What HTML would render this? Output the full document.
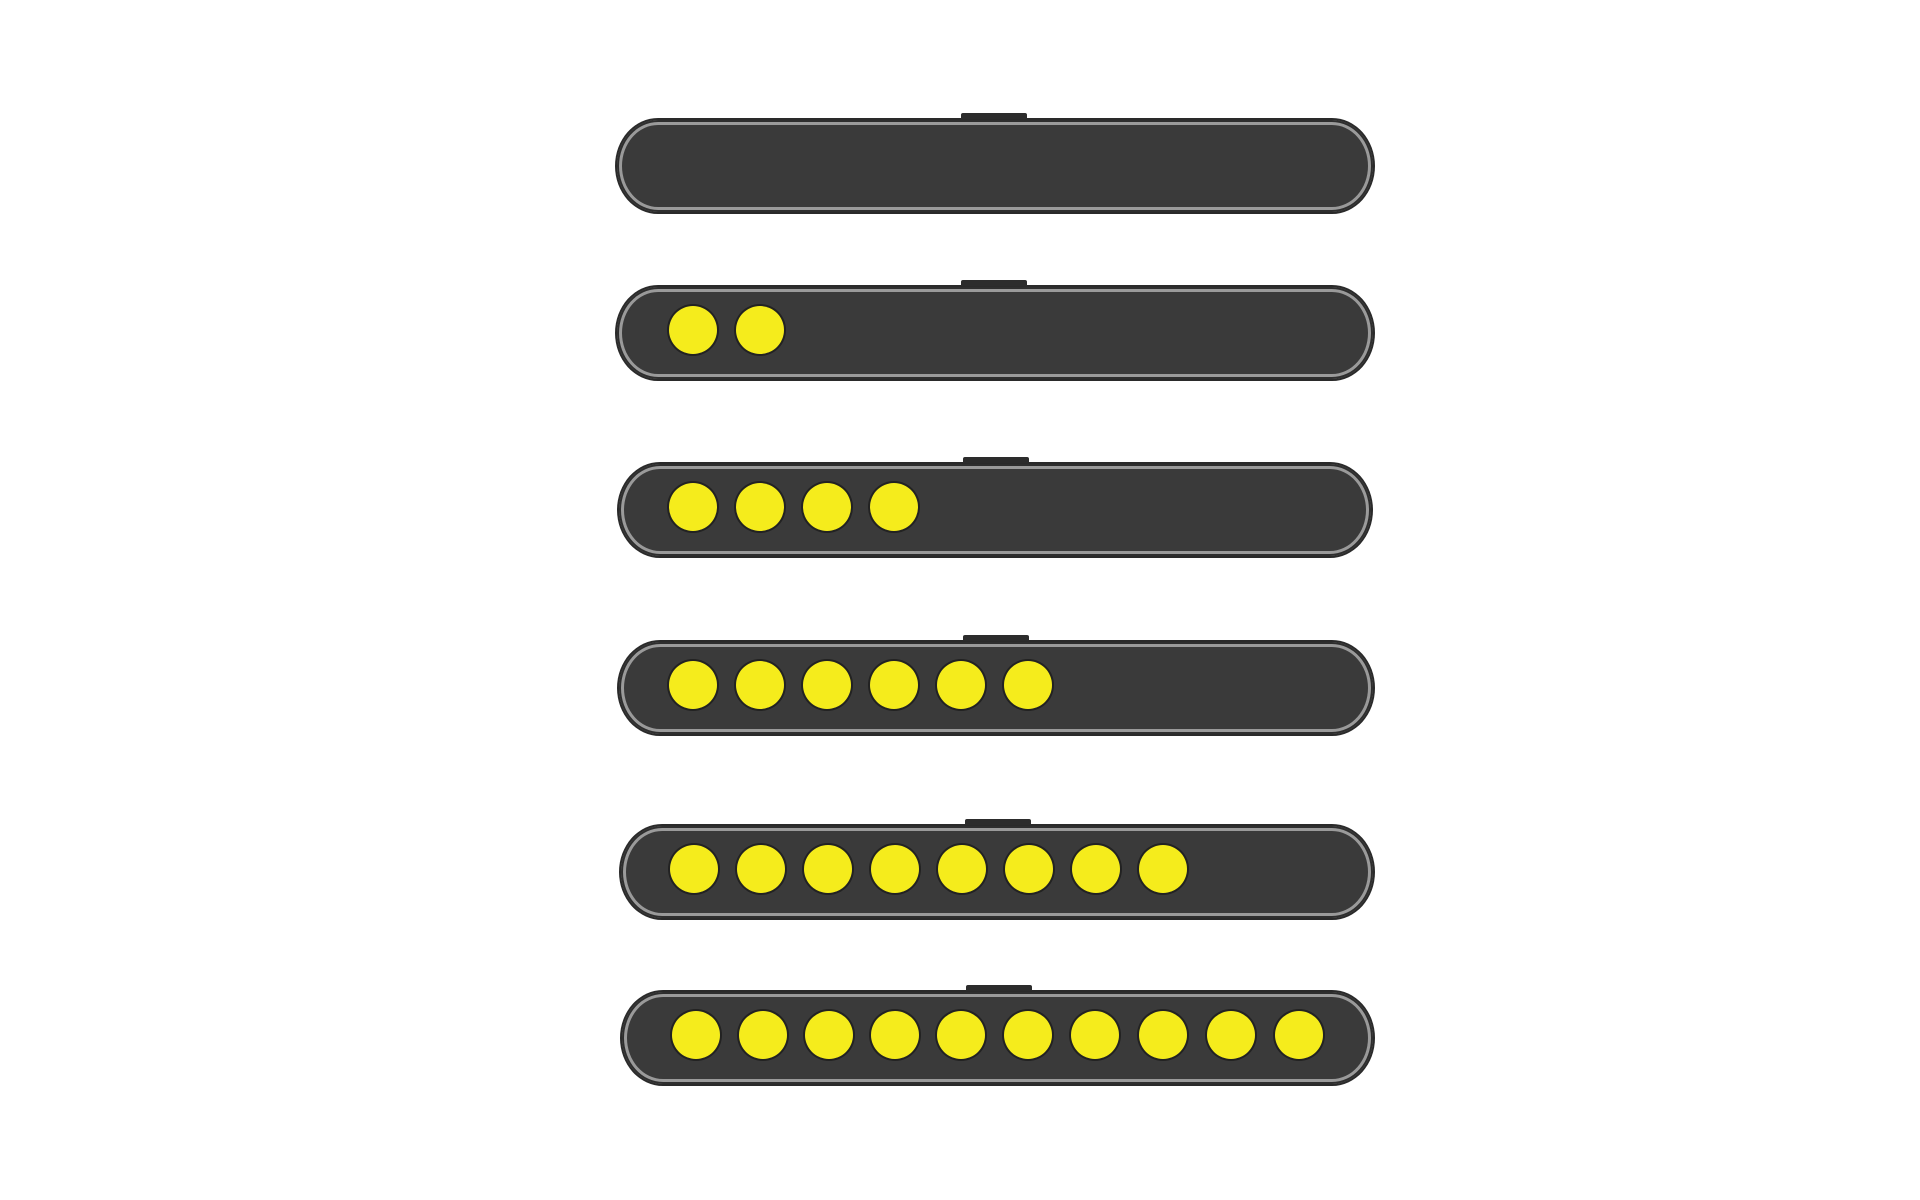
<!DOCTYPE html>
<html><head><meta charset="utf-8"><style>
html,body{margin:0;padding:0;background:#fff;width:1920px;height:1200px;overflow:hidden;position:relative}
.bar{position:absolute;left:617px;width:756px;height:92px;border-radius:42px/47px;background:#3a3a3a;
box-shadow:0 0 0 2px #2a2a2a, inset 0 0 0 2px #2e2e2e, inset 0 0 0 5px #9a9a9a, inset 0 0 0 7px #3a3a3a;}
.tab{position:absolute;left:344px;top:-7px;width:66px;height:6px;background:#2c2c2c;border-radius:2px 2px 0 0}
.dot{position:absolute;top:19px;width:48px;height:48px;border-radius:50%;background:#f5ec1c;box-shadow:0 0 0 2px #222}
</style></head><body>
<div class="bar" style="top:120px"><div class="tab"></div></div>
<div class="bar" style="top:287px"><div class="tab"></div>
<div class="dot" style="left:52px"></div><div class="dot" style="left:119px"></div></div>
<div class="bar" style="top:464px;left:619px;width:752px"><div class="tab"></div>
<div class="dot" style="left:50px"></div><div class="dot" style="left:117px"></div><div class="dot" style="left:184px"></div><div class="dot" style="left:251px"></div></div>
<div class="bar" style="top:642px;left:619px;width:754px"><div class="tab"></div>
<div class="dot" style="left:50px"></div><div class="dot" style="left:117px"></div><div class="dot" style="left:184px"></div><div class="dot" style="left:251px"></div><div class="dot" style="left:318px"></div><div class="dot" style="left:385px"></div></div>
<div class="bar" style="top:826px;left:621px;width:752px"><div class="tab"></div>
<div class="dot" style="left:49px"></div><div class="dot" style="left:116px"></div><div class="dot" style="left:183px"></div><div class="dot" style="left:250px"></div><div class="dot" style="left:317px"></div><div class="dot" style="left:384px"></div><div class="dot" style="left:451px"></div><div class="dot" style="left:518px"></div></div>
<div class="bar" style="top:992px;left:622px;width:751px"><div class="tab"></div>
<div class="dot" style="left:50px"></div><div class="dot" style="left:117px"></div><div class="dot" style="left:183px"></div><div class="dot" style="left:249px"></div><div class="dot" style="left:315px"></div><div class="dot" style="left:382px"></div><div class="dot" style="left:449px"></div><div class="dot" style="left:517px"></div><div class="dot" style="left:585px"></div><div class="dot" style="left:653px"></div></div>
</body></html>
